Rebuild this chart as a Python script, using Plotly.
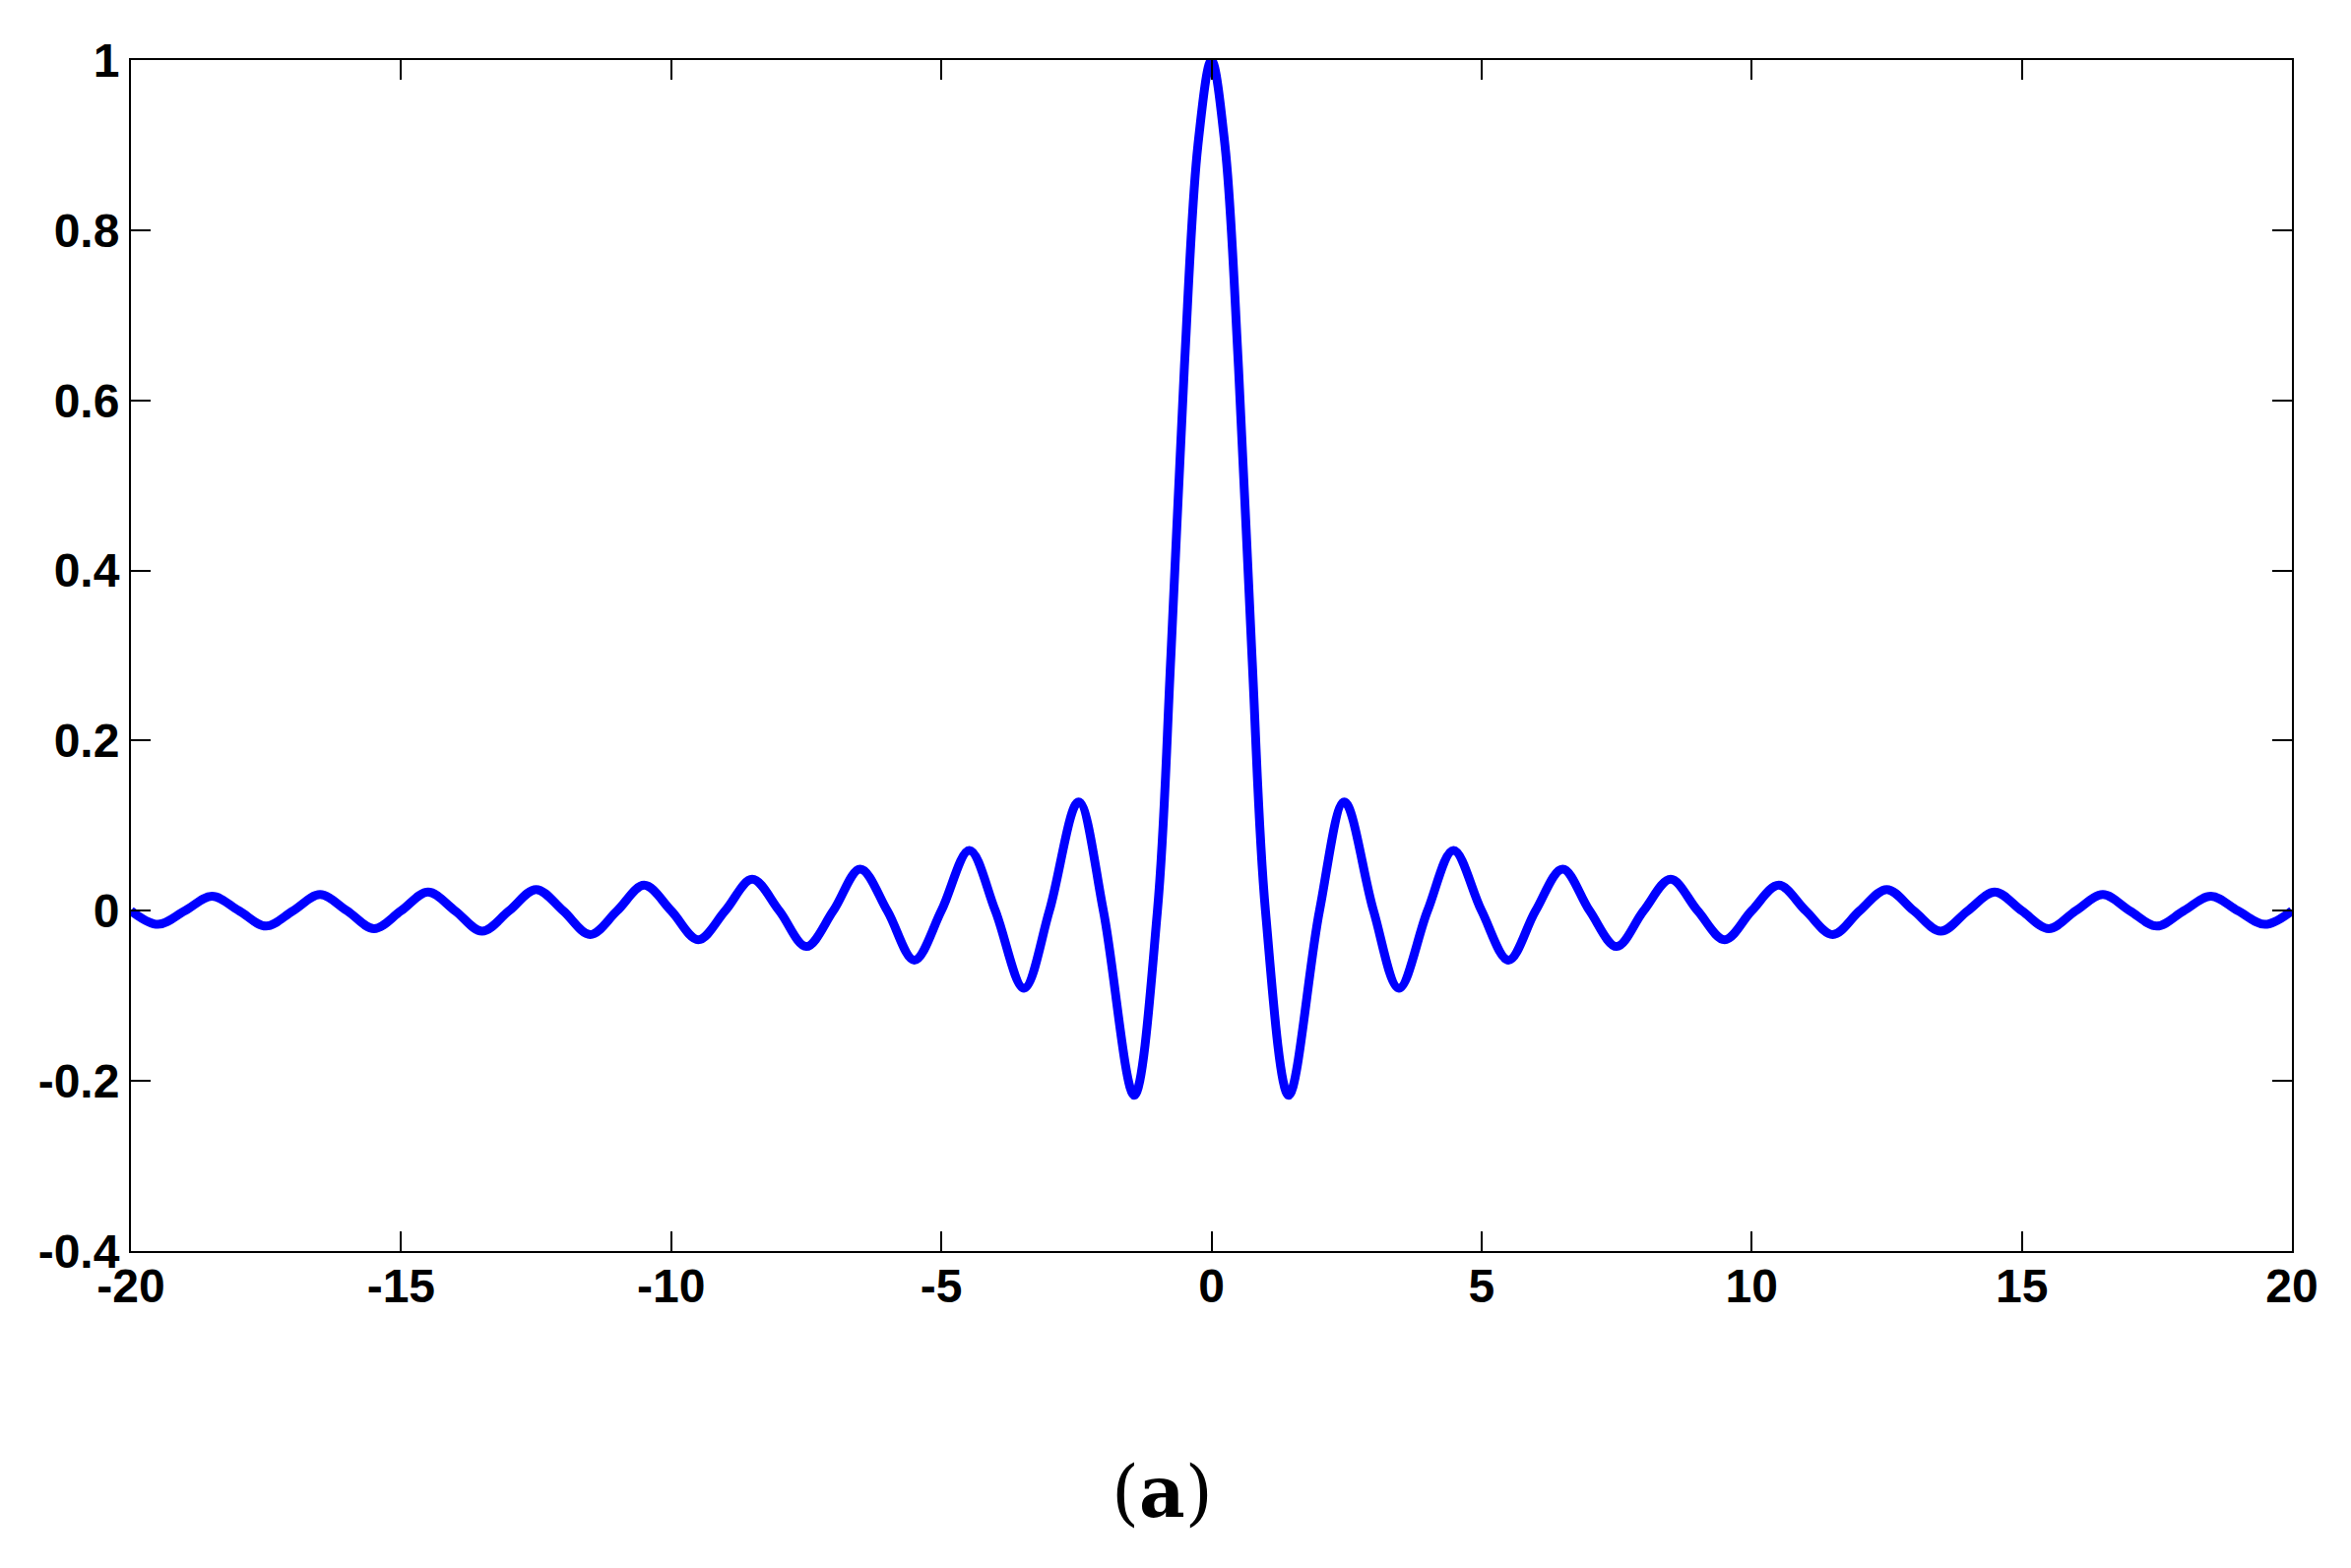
import plotly.graph_objects as go

# Values (positive half; curve is symmetric about x=0)
x_pos = [0, 0.25, 0.5, 0.75, 1, 1.43, 2, 2.46, 3, 3.47, 4, 4.48, 5, 5.5, 6, 6.5, 7, 7.5, 8, 8.5,
         9, 9.5, 10, 10.5, 11, 11.5, 12, 12.5, 13, 13.5, 14, 14.5, 15, 15.5, 16, 16.5, 17, 17.5,
         18, 18.5, 19, 19.5, 20]
y_pos = [1.0, 0.90, 0.64, 0.30, 0.0, -0.217, 0.0, 0.128, 0.0, -0.091, 0.0, 0.071, 0.0, -0.058, 0.0,
         0.049, 0.0, -0.042, 0.0, 0.037, 0.0, -0.034, 0.0, 0.030, 0.0, -0.028, 0.0, 0.025, 0.0,
         -0.024, 0.0, 0.022, 0.0, -0.021, 0.0, 0.019, 0.0, -0.018, 0.0, 0.017, 0.0, -0.016, 0.0]

x_vals = [-v for v in reversed(x_pos[1:])] + x_pos
y_vals = list(reversed(y_pos[1:])) + y_pos

x_ticks = [-20, -15, -10, -5, 0, 5, 10, 15, 20]
x_labels = ["-20", "-15", "-10", "-5", "0", "5", "10", "15", "20"]
y_ticks = [-0.4, -0.2, 0, 0.2, 0.4, 0.6, 0.8, 1]
y_labels = ["-0.4", "-0.2", "0", "0.2", "0.4", "0.6", "0.8", "1"]

fig = go.Figure()
fig.add_trace(go.Scatter(x=x_vals, y=y_vals, mode="lines",
                         line=dict(color="#0000FF", width=9, shape="spline", smoothing=1.0),
                         showlegend=False, hoverinfo="skip", cliponaxis=True))

tickfont = dict(family="Liberation Sans, Arial, sans-serif", size=48, color="black", weight="bold")
axis_common = dict(showline=True, linecolor="black", linewidth=2, mirror="ticks",
                   ticks="inside", ticklen=20, tickwidth=2, tickcolor="black",
                   showgrid=False, zeroline=False, tickfont=tickfont, automargin=False)

fig.update_xaxes(range=[-20, 20], tickvals=x_ticks, ticktext=x_labels, ticklabelstandoff=-8,
                 **axis_common)
fig.update_yaxes(range=[-0.4, 1], tickvals=y_ticks, ticktext=y_labels, **axis_common)

fig.add_annotation(text="(<b>a</b>)", xref="paper", yref="paper", x=0.4774, y=-0.2017,
                   xanchor="center", yanchor="middle", showarrow=False,
                   font=dict(family="DejaVu Serif, serif", size=72, color="black"))

fig.update_layout(width=2380, height=1585, margin=dict(l=125, r=60, t=53, b=322, autoexpand=False),
                  paper_bgcolor="white", plot_bgcolor="white")

fig.write_html("out.html")
